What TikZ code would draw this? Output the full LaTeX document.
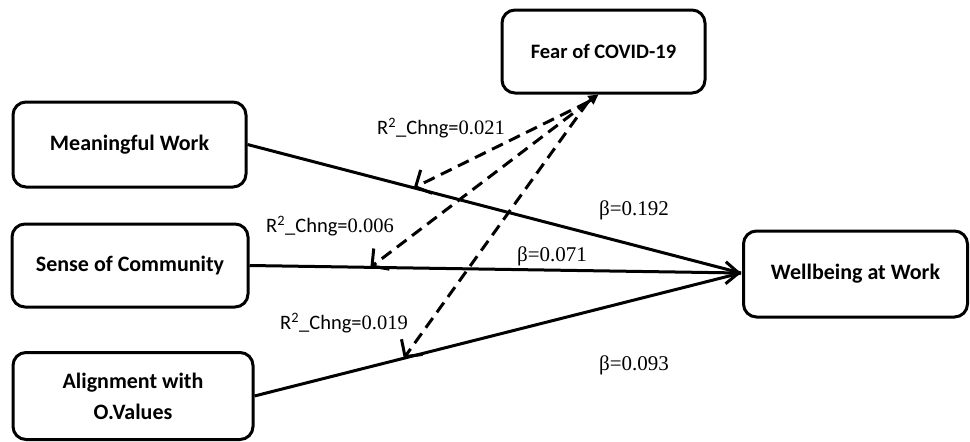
\documentclass[tikz,border=0pt]{standalone}
\usepackage{fontspec}
\setmainfont{Carlito}
\newfontfamily\numfont{Liberation Serif}
\usetikzlibrary{arrows.meta}
\begin{document}
\begin{tikzpicture}[x=1pt,y=-1pt,
  box/.style={draw, line width=3pt, rounded corners=13pt, align=center, inner sep=0pt,
    font=\bfseries\fontsize{22}{31}\selectfont},
  path/.style={line width=3pt},
  modline/.style={line width=3pt, dash pattern=on 12pt off 7pt, -{Straight Barb[length=12pt,width=26pt,line width=3pt]}},
  rlab/.style={font=\fontsize{20.5}{24}\selectfont, inner sep=0pt},
  blab/.style={font=\numfont\fontsize{21}{24}\selectfont, inner sep=0pt}]
\useasboundingbox (0,0) rectangle (970,442);

\node[box, minimum width=203pt, minimum height=83pt, font=\bfseries\fontsize{20.5}{24}\selectfont] (fear) at (603.5,51.5) {Fear of COVID-19};
\node[box, minimum width=233pt, minimum height=85pt] (mw) at (129.5,144.5) {Meaningful Work};
\node[box, minimum width=236pt, minimum height=83pt] (soc) at (130,265.5) {Sense of Community};
\node[box, minimum width=240pt, minimum height=87pt] (al) at (133,396) {Alignment with\\O.Values};
\node[box, minimum width=224pt, minimum height=86pt] (wb) at (855.5,274) {Wellbeing at Work};

\coordinate (tip) at (741,273);
\coordinate (hub) at (588,102);

\draw[path] (mw.east) -- (tip) coordinate[pos=0.337] (m1);
\draw[path, -{Straight Barb[length=13pt,width=22pt,line width=3pt]}] (soc.east) -- (tip) coordinate[pos=0.246] (m2);
\draw[path] (al.east) -- (tip) coordinate[pos=0.307] (m3);

\draw[modline] (hub) -- (m1);
\draw[modline] (hub) -- (m2);
\draw[modline] (hub) -- (m3);
\draw[line width=3pt, -{Triangle[length=10pt,width=10pt]}] (hub) -- ([xshift=-5pt]fear.south);

\node[rlab] (r1) at (441,128) {R\textsuperscript{2}\_Chng={\numfont 0.021}};
\node[rlab] (r2) at (330,226) {R\textsuperscript{2}\_Chng={\numfont 0.006}};
\node[rlab] (r3) at (344,323) {R\textsuperscript{2}\_Chng={\numfont 0.019}};

\node[blab] (b1) at (634,210) {β=0.192};
\node[blab] (b2) at (552,256) {β=0.071};
\node[blab] (b3) at (634,365) {β=0.093};
\end{tikzpicture}
\end{document}
